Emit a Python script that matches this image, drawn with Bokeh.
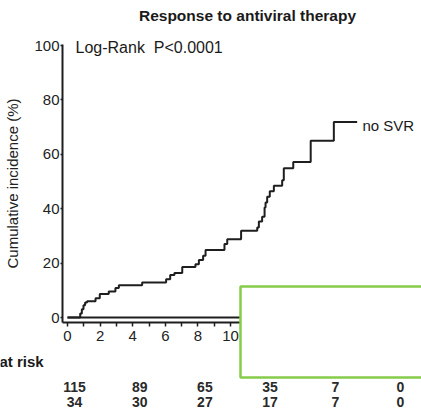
from bokeh.plotting import figure
from bokeh.models import Range1d, LinearAxis, FixedTicker, BoxAnnotation, Label, ColumnDataSource
from bokeh.embed import file_html
from bokeh.resources import INLINE
from bokeh.core.properties import value

# ---- data ----
nosvr_times = [0, 0.78, 0.88, 0.98, 1.08, 1.2, 1.72, 1.98, 2.53, 2.94, 3.15, 4.58, 6.05, 6.3,
               6.56, 7.04, 7.85, 8.06, 8.32, 8.47, 9.63, 9.8, 10.65, 11.64, 11.74, 11.94, 12.09,
               12.15, 12.25, 12.41, 12.66, 13.17, 13.27, 13.85, 14.92, 16.34, 17.77]
nosvr_incidence = [0, 1.5, 3.0, 4.5, 5.5, 6.0, 7.1, 8.6, 9.6, 10.8, 11.9, 12.9, 14.1, 15.6,
                   16.4, 18.6, 19.6, 21.1, 22.7, 24.8, 27.0, 28.8, 31.9, 33.1, 35.3, 37.0, 40.4,
                   42.3, 44.4, 46.4, 48.4, 50.5, 54.9, 57.2, 65.0, 71.9, 71.9]
svr_times = [0, 16]
svr_incidence = [0, 0]

risk_times = [0, 4, 8, 12, 16, 20]
risk_row1 = [115, 89, 65, 35, 7, 0]
risk_row2 = [34, 30, 27, 17, 7, 0]

x_ticks = [0, 2, 4, 6, 8, 10, 12, 14, 16, 18, 20]
x_minor = [1, 3, 5, 7, 9, 11, 13, 15, 17, 19]
y_ticks = [0, 20, 40, 60, 80, 100]

# ---- pixel <-> data helpers (frame covers whole canvas) ----
W, H = 421, 412
X0, XPX = 67.0, 16.3
Y0, YPX = 317.0, 2.72


def dx(px):
    return (px - X0) / XPX


def dy(py):
    return (Y0 - py) / YPX


FONT = "Liberation Sans"
INK = "#1e1e1e"

p = figure(width=W, height=H, x_range=Range1d(dx(0), dx(W)), y_range=Range1d(dy(H), dy(0)),
           min_border=0, toolbar_location=None, output_backend="svg",
           x_axis_location=None, y_axis_location=None)
p.grid.visible = False
p.outline_line_color = None
p.background_fill_color = "white"
p.border_fill_color = "white"

# axes at fixed positions inside the frame
xaxis = LinearAxis(fixed_location=dy(322), bounds=(dx(61.5), 21.5),
                   ticker=FixedTicker(ticks=x_ticks, minor_ticks=x_minor))
xaxis.axis_line_color = INK
xaxis.axis_line_width = 2
xaxis.major_tick_line_color = INK
xaxis.major_tick_line_width = 1.5
xaxis.major_tick_in = 0
xaxis.major_tick_out = 4
xaxis.minor_tick_line_color = INK
xaxis.minor_tick_line_width = 1.5
xaxis.minor_tick_in = 0
xaxis.minor_tick_out = 4
xaxis.major_label_text_font = FONT
xaxis.major_label_text_font_size = "15px"
xaxis.major_label_text_color = "#222222"
xaxis.major_label_standoff = 4
p.add_layout(xaxis, "below")

yaxis = LinearAxis(fixed_location=dx(62), bounds=(dy(322), 100.5),
                   ticker=FixedTicker(ticks=y_ticks, minor_ticks=[]),
                   axis_label="Cumulative incidence (%)")
yaxis.axis_line_color = INK
yaxis.axis_line_width = 2
yaxis.major_tick_line_color = INK
yaxis.major_tick_line_width = 1.5
yaxis.major_tick_in = 0
yaxis.major_tick_out = 2
yaxis.minor_tick_line_color = None
yaxis.major_label_text_font = FONT
yaxis.major_label_text_font_size = "15px"
yaxis.major_label_text_color = "#222222"
yaxis.major_label_standoff = 1
yaxis.axis_label_text_font = FONT
yaxis.axis_label_text_font_size = "15px"
yaxis.axis_label_text_font_style = "normal"
yaxis.axis_label_text_color = "#222222"
yaxis.axis_label_standoff = 10
p.add_layout(yaxis, "left")

# curves
p.step(x=svr_times, y=svr_incidence, mode="after", line_color=INK, line_width=2)
p.step(x=nosvr_times, y=nosvr_incidence, mode="after", line_color=INK, line_width=2)

# texts
p.add_layout(Label(x=dx(247), y=dy(15), text="Response to antiviral therapy",
                   text_font=FONT, text_font_size="15.5px", text_font_style="bold",
                   text_color="#1a1a1a", text_align="center", text_baseline="middle"))
p.add_layout(Label(x=dx(75), y=dy(47), text="Log-Rank\u00a0 P<0.0001",
                   text_font=FONT, text_font_size="16px", text_color="#1a1a1a",
                   text_align="left", text_baseline="middle"))
p.add_layout(Label(x=dx(362), y=dy(125), text="no SVR",
                   text_font=FONT, text_font_size="15px", text_color="#1a1a1a",
                   text_align="left", text_baseline="middle"))
p.add_layout(Label(x=dx(-1), y=dy(361), text="at risk",
                   text_font=FONT, text_font_size="15px", text_font_style="bold",
                   text_color="#1a1a1a", text_align="left", text_baseline="middle"))

src = ColumnDataSource(dict(t=risk_times,
                            r1=[str(v) for v in risk_row1],
                            r2=[str(v) for v in risk_row2],
                            y1=[dy(386)] * len(risk_times),
                            y2=[dy(401)] * len(risk_times)))
for ycol, tcol in (("y1", "r1"), ("y2", "r2")):
    p.text(x="t", y=ycol, text=tcol, source=src, x_offset=7,
           text_font=value(FONT), text_font_size="14px", text_font_style="bold",
           text_color="#2a2a2a", text_align="center", text_baseline="middle")

# overlaid green box
p.add_layout(BoxAnnotation(left=dx(240), right=dx(440), top=dy(286), bottom=dy(377),
                           fill_color="white", fill_alpha=1.0,
                           line_color="#86cc4a", line_alpha=1.0, line_width=2.5,
                           level="overlay"))

open("out.html", "w").write(file_html(p, INLINE))
